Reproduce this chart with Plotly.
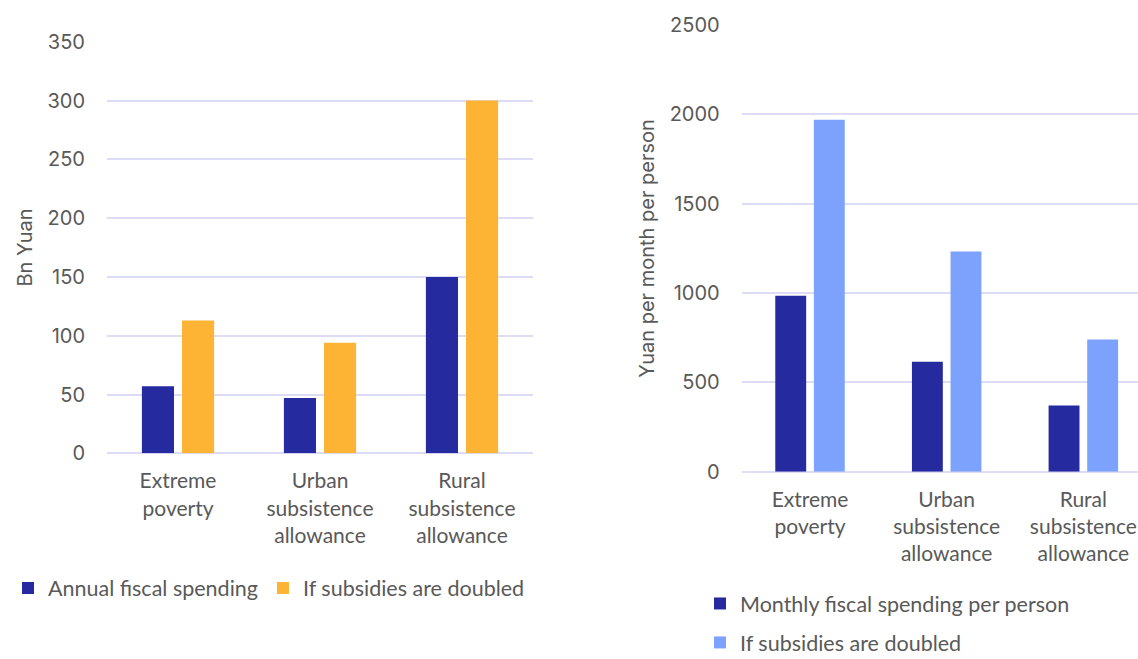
import plotly.graph_objects as go

# Categories (shared by both panels)
categories = ["Extreme<br>poverty", "Urban<br>subsistence<br>allowance", "Rural<br>subsistence<br>allowance"]

# Left panel: annual fiscal spending, Bn Yuan
annual_spending = [57, 47, 150]
annual_doubled = [113, 94, 300]

# Right panel: monthly fiscal spending per person, Yuan
monthly_per_person = [985, 616, 370]
monthly_doubled = [1970, 1232, 740]

left_ticks = [0, 50, 100, 150, 200, 250, 300, 350]
right_ticks = [0, 500, 1000, 1500, 2000, 2500]

DARK_BLUE = "#252a9f"
ORANGE = "#fdb333"
LIGHT_BLUE = "#7da2fd"
GRID = "#dcdcf7"
TEXT = "#595959"

W, H = 1138, 659

fig = go.Figure()

fig.add_trace(go.Bar(x=categories, y=annual_spending, name="Annual fiscal spending",
                     marker=dict(color=DARK_BLUE, line=dict(width=0)),
                     xaxis="x", yaxis="y", legend="legend"))
fig.add_trace(go.Bar(x=categories, y=annual_doubled, name="If subsidies are doubled",
                     marker=dict(color=ORANGE, line=dict(width=0)),
                     xaxis="x", yaxis="y", legend="legend"))
fig.add_trace(go.Bar(x=categories, y=monthly_per_person, name="Monthly fiscal spending per person",
                     marker=dict(color=DARK_BLUE, line=dict(width=0)),
                     xaxis="x2", yaxis="y2", legend="legend2", legendgroup="m1"))
fig.add_trace(go.Bar(x=categories, y=monthly_doubled, name="If subsidies are doubled",
                     marker=dict(color=LIGHT_BLUE, line=dict(width=0)),
                     xaxis="x2", yaxis="y2", legend="legend2", legendgroup="m2"))

cat_font = dict(family="Lato", size=21, color=TEXT)
num_font = dict(family="Inter", size=20, color=TEXT)
title_font = dict(family="Inter", size=20, color=TEXT)
legend_font = dict(family="Lato", size=21.5, color=TEXT)


def px_x(p):
    return p / W


def px_y(p):
    return (H - p) / H


fig.update_layout(
    width=W, height=H,
    margin=dict(l=0, r=0, t=0, b=0, autoexpand=False),
    paper_bgcolor="white", plot_bgcolor="white",
    barmode="group", bargap=0.435, bargroupgap=0.2,
    font=dict(family="Lato", color=TEXT),
    xaxis=dict(domain=[px_x(107), px_x(533)], anchor="y",
               tickfont=cat_font, showgrid=False, showline=False, zeroline=False,
               ticks="", ticklabelstandoff=13, fixedrange=True),
    yaxis=dict(domain=[px_y(453.3), px_y(41.7)], anchor="x",
               range=[0, 350], tickvals=left_ticks, tickfont=num_font,
               showgrid=True, gridcolor=GRID, gridwidth=2,
               zeroline=True, zerolinecolor=GRID, zerolinewidth=2,
               showline=False, ticks="", ticklabelstandoff=21,
               title=dict(text="Bn Yuan", font=title_font, standoff=9)),
    xaxis2=dict(domain=[px_x(741.7), 1.0], anchor="y2",
                range=[-0.5, 2.4], tickfont=cat_font, showgrid=False,
                showline=False, zeroline=False, ticks="", ticklabelstandoff=13),
    yaxis2=dict(domain=[px_y(471.7), px_y(25)], anchor="x2",
                range=[0, 2500], tickvals=right_ticks, tickfont=num_font,
                showgrid=True, gridcolor=GRID, gridwidth=2,
                zeroline=True, zerolinecolor=GRID, zerolinewidth=2,
                showline=False, ticks="", ticklabelstandoff=21,
                title=dict(text="Yuan per month per person", font=title_font, standoff=9)),
    legend=dict(orientation="h", x=px_x(8), y=px_y(588), xanchor="left", yanchor="middle",
                font=legend_font, bgcolor="rgba(0,0,0,0)",
                itemclick=False, itemdoubleclick=False),
    legend2=dict(orientation="v", x=px_x(700), y=px_y(583), xanchor="left", yanchor="top",
                 font=legend_font, bgcolor="rgba(0,0,0,0)",
                 tracegroupgap=8, traceorder="grouped",
                 itemclick=False, itemdoubleclick=False),
    showlegend=True,
)

fig.write_html("out.html")
